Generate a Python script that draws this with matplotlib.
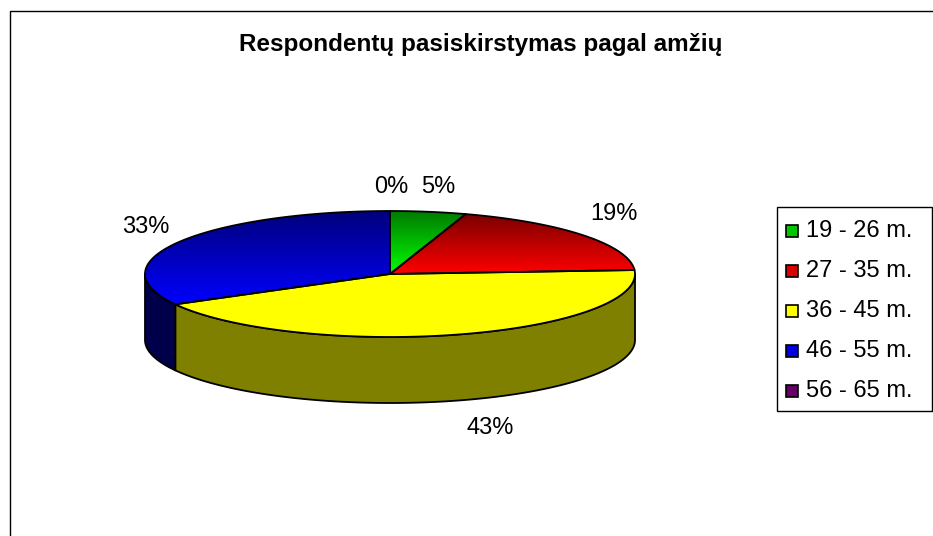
import numpy as np
import matplotlib
matplotlib.use('Agg')
import matplotlib.pyplot as plt
from matplotlib.patches import Polygon, Rectangle
from matplotlib.colors import to_rgb

# ---- data ----
title = "Respondentų pasiskirstymas pagal amžių"
categories = ["19 - 26 m.", "27 - 35 m.", "36 - 45 m.", "46 - 55 m.", "56 - 65 m."]
values = [5, 19, 43, 33, 0]
pct_labels = ["5%", "19%", "43%", "33%", "0%"]

# ---- styles ----
top_dark = ['#007a00', '#7a0000', '#ffff00', '#00007a', '#400040']
top_light = ['#00ff00', '#ff0000', '#ffff00', '#0000ff', '#800080']
side_colors = ['#006000', '#800000', '#808000', '#00004a', '#400040']
legend_colors = ['#00c800', '#d80000', '#ffff00', '#0000e0', '#660066']

# ---- layout ----
W, H = 933, 536
cx, cy, rx, ry, depth = 390, 274, 245, 63, 66
label_pos = [(438, 187), (614, 214), (490, 428), (146, 227), (391, 187)]
FONT = ['Liberation Sans', 'DejaVu Sans']
FS = 17

fig = plt.figure(figsize=(W / 100, H / 100), dpi=100)
ax = fig.add_axes([0, 0, 1, 1])
ax.set_xlim(0, W)
ax.set_ylim(H, 0)
ax.axis('off')


def arc(a0, a1, dy=0, n=200):
    t = np.radians(np.linspace(a0, a1, n))
    return np.column_stack([cx + rx * np.sin(t), cy - ry * np.cos(t) + dy])


total = float(sum(values))
angles = [360 * v / total for v in values]
starts = np.concatenate([[0], np.cumsum(angles)[:-1]])

# side faces (front half: 90..270 deg clockwise from top)
for i, (s0, a) in enumerate(zip(starts, angles)):
    a0, a1 = s0, s0 + a
    s, e = max(a0, 90), min(a1, 270)
    if e > s:
        top = arc(s, e)
        bot = arc(s, e, dy=depth)[::-1]
        poly = Polygon(np.vstack([top, bot]), closed=True, facecolor=side_colors[i],
                       edgecolor='black', lw=1.3, zorder=1, joinstyle='round')
        ax.add_patch(poly)

# top faces with vertical gradients
for i, (s0, a) in enumerate(zip(starts, angles)):
    if a <= 0:
        continue
    pts = np.vstack([[cx, cy], arc(s0, s0 + a)])
    clip = Polygon(pts, closed=True, facecolor='none', edgecolor='none', zorder=2)
    ax.add_patch(clip)
    y0, y1 = pts[:, 1].min(), pts[:, 1].max()
    x0, x1 = pts[:, 0].min(), pts[:, 0].max()
    c0, c1 = np.array(to_rgb(top_dark[i])), np.array(to_rgb(top_light[i]))
    f = np.linspace(0, 1, 256)[:, None, None]
    grad = c0 + (c1 - c0) * f
    grad = np.repeat(grad, 2, axis=1)
    im = ax.imshow(grad, extent=(x0, x1, y1, y0), origin='upper', aspect='auto',
                   zorder=2, interpolation='bilinear')
    im.set_clip_path(clip)
    ax.add_patch(Polygon(pts, closed=True, fill=False, edgecolor='black', lw=1.3,
                         zorder=3, joinstyle='round'))

ax.set_xlim(0, W)
ax.set_ylim(H, 0)

# percentage labels
for (lx, ly), t in zip(label_pos, pct_labels):
    ax.text(lx, ly, t, ha='center', va='center', fontsize=FS, family=FONT, zorder=5)

# title
ax.text(481, 45, title, ha='center', va='center', fontsize=17.5, fontweight='bold',
        family=FONT, zorder=5)

# legend
lx0, ly0, lx1, ly1 = 777, 207, 932, 411
ax.add_patch(Rectangle((lx0, ly0), lx1 - lx0, ly1 - ly0, fill=False, edgecolor='black',
                       lw=1.0, zorder=4))
row_y = np.linspace(231, 391, len(categories))
for yy, c, name in zip(row_y, legend_colors, categories):
    ax.add_patch(Rectangle((786, yy - 6), 12, 12, facecolor=c, edgecolor='black',
                           lw=1.2, zorder=5))
    ax.text(806, yy, name, ha='left', va='center', fontsize=FS, family=FONT, zorder=5)

# chart frame (left and top borders)
ax.plot([9.5, 9.5, W], [H, 10.5, 10.5], color='black', lw=1.0, clip_on=False, zorder=6)

fig.savefig('out.png', dpi=100)
